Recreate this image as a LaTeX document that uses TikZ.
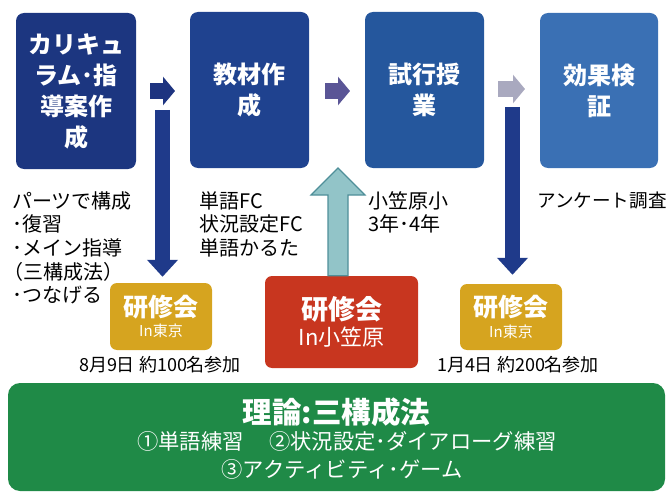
\documentclass[tikz,border=0pt]{standalone}
\usepackage{fontspec}
\usetikzlibrary{arrows.meta}
\setmainfont{Noto Sans CJK JP}
\newfontfamily\cjk{Noto Sans CJK JP}
\definecolor{bA}{HTML}{1C3680}
\definecolor{bB}{HTML}{1F428F}
\definecolor{bC}{HTML}{25579D}
\definecolor{bD}{HTML}{3A70B4}
\definecolor{arA}{HTML}{1E3480}
\definecolor{arB}{HTML}{5A5596}
\definecolor{arC}{HTML}{A9A9BF}
\definecolor{downc}{HTML}{1F3A8A}
\definecolor{gold}{HTML}{D6A41F}
\definecolor{redb}{HTML}{C8361F}
\definecolor{greenb}{HTML}{1F8A47}
\definecolor{upfill}{HTML}{92C4C8}
\definecolor{upline}{HTML}{4F8F99}
\tikzset{
  stepbox/.style={rounded corners=8pt, inner sep=0pt, text=white, align=center,
     font=\cjk\bfseries\fontsize{24}{31}\selectfont},
  lbl/.style={anchor=north west, inner sep=0pt, align=left, text=black,
     font=\cjk\fontsize{20}{23.7}\selectfont},
  meet/.style={rounded corners=7pt, inner sep=0pt, text=white, align=center},
  datelbl/.style={inner sep=0pt, font=\cjk\fontsize{18}{20}\selectfont},
  harrow/.style={line width=16pt, -{Triangle[width=28pt,length=12pt]}},
  varrow/.style={line width=15pt, draw=downc, -{Triangle[width=30pt,length=17pt]}},
}
\begin{document}
\begin{tikzpicture}[x=1pt,y=-1pt]
\useasboundingbox (0,0) rectangle (672,492);
% top boxes
\node[stepbox, fill=bA, minimum width=120pt, minimum height=156pt] (s1) at (76,91) {カリキュ\\ラム･指\\導案作\\成};
\node[stepbox, fill=bB, minimum width=119pt, minimum height=156pt] (s2) at (249.5,90) {教材作\\成};
\node[stepbox, fill=bC, minimum width=119pt, minimum height=156pt] (s3) at (424.5,90) {試行授\\業};
\node[stepbox, fill=bD, minimum width=118pt, minimum height=155pt] (s4) at (599,90.5) {効果検\\証};
% horizontal arrows
\coordinate (h1a) at (150,91); \coordinate (h1b) at (175,91);
\coordinate (h2a) at (325,91); \coordinate (h2b) at (350,91);
\coordinate (h3a) at (498,89); \coordinate (h3b) at (525,89);
\draw[harrow, draw=arA, color=arA] (h1a) -- (h1b);
\draw[harrow, draw=arB, color=arB] (h2a) -- (h2b);
\draw[harrow, draw=arC, color=arC] (h3a) -- (h3b);
% labels
\node[lbl] (t1) at (12,191) {パーツで構成\\･復習\\･メイン指導\\\hspace*{-0.45em}（三構成法）\\･つなげる};
\node[lbl] (t2) at (199,191) {単語FC\\状況設定FC\\単語かるた};
\node[lbl] (t3) at (368,191) {小笠原小\\3年･4年};
\node[lbl, font=\cjk\fontsize{18.6}{23.7}\selectfont] (t4) at (537,192) {アンケート調査};
% meetings
\node[meet, fill=gold, minimum width=102pt, minimum height=67pt] (g1) at (161,316.5)
  {{\cjk\bfseries\fontsize{25}{27}\selectfont 研修会}\\[4pt]{\cjk\fontsize{15}{16}\selectfont In東京}};
\node[meet, fill=gold, minimum width=102pt, minimum height=66pt] (g2) at (511,317)
  {{\cjk\bfseries\fontsize{25}{27}\selectfont 研修会}\\[4pt]{\cjk\fontsize{15}{16}\selectfont In東京}};
\node[meet, fill=redb, minimum width=153pt, minimum height=92pt] (r) at (341.5,322)
  {{\cjk\bfseries\fontsize{27}{30}\selectfont 研修会}\\[4pt]{\cjk\fontsize{22}{24}\selectfont In小笠原}};
\node[datelbl] (d1) at (160,365) {8月9日 約100名参加};
\node[datelbl] (d2) at (518,365) {1月4日 約200名参加};
% down arrows
\coordinate (v1) at (162.5,110);
\coordinate (v2) at (512.5,107);
\draw[varrow, shorten >=6pt] (v1) -- (v1 |- g1.north);
\draw[varrow, shorten >=9pt] (v2) -- (v2 |- g2.north);
% up arrow
\draw[fill=upfill, draw=upline, line width=1.2pt, line join=miter]
  (r.north -| 328,0) -- (328,195) -- (311,195) -- (338,168) -- (365,195) -- (348,195) -- (r.north -| 348,0) -- cycle;
% theory box
\node[rounded corners=12pt, fill=greenb, minimum width=657pt, minimum height=108pt, inner sep=0pt] (th) at (336.5,437) {};
\node[text=white, inner sep=0pt, font=\cjk\bfseries\fontsize{29.5}{31}\selectfont] (th1) at (336.5,412) {理論:三構成法};
\node[text=white, inner sep=0pt, font=\cjk\fontsize{21.3}{24}\selectfont] (th2) at (347,441) {①単語練習\hspace{1.2em}②状況設定･ダイアローグ練習};
\node[text=white, inner sep=0pt, font=\cjk\fontsize{21.3}{24}\selectfont] (th3) at (342,469) {③アクティビティ･ゲーム};
\end{tikzpicture}
\end{document}
